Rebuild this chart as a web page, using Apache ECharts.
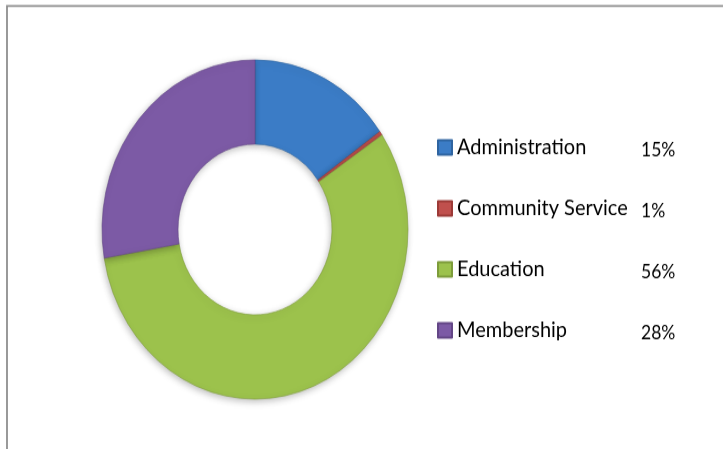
<!DOCTYPE html>
<html>
<head>
<meta charset="utf-8">
<script src="https://cdn.jsdelivr.net/npm/echarts@6/dist/echarts.min.js"></script>
<style>
html,body{margin:0;padding:0;background:#fff;overflow:hidden;}
#wrap{position:absolute;left:0;top:0;width:723px;height:405px;transform:scaleY(1.1086);transform-origin:0 0;}
</style>
</head>
<body>
<div id="wrap"></div>
<script>
var categories = ['Administration', 'Community Service', 'Education', 'Membership'];
var values = [15.2, 0.4, 56.7, 27.7];
var percentLabels = ['15%', '1%', '56%', '28%'];
var colors = ['#3b7cc6', '#c0504d', '#9cc24c', '#7c5aa5'];
var borders = ['#2f64a0', '#9c3a37', '#7d9c3a', '#634686'];

var chart = echarts.init(document.getElementById('wrap'), null, {renderer: 'canvas'});
var data = categories.map(function (c, i) {
  return {
    name: c,
    value: values[i],
    itemStyle: {color: colors[i], borderColor: borders[i], borderWidth: 0.6}
  };
});
var pctMap = {};
categories.forEach(function (c, i) { pctMap[c] = percentLabels[i]; });

chart.setOption({
  animation: false,
  backgroundColor: '#ffffff',
  graphic: [{
    type: 'rect',
    shape: {x: 7, y: 5.4, width: 1000, height: 1000},
    style: {fill: 'none', stroke: '#8f8f8f', lineWidth: 1.8},
    silent: true
  }],
  legend: {
    orient: 'vertical',
    left: 432,
    top: 118,
    itemWidth: 14,
    itemHeight: 13,
    itemGap: 34,
    icon: 'rect',
    selectedMode: false,
    formatter: function (name) {
      return '{n|' + name + '}{p|' + pctMap[name] + '}';
    },
    textStyle: {
      fontFamily: 'Lato',
      color: '#000',
      lineHeight: 20,
      rich: {
        n: {fontFamily: 'Lato', fontSize: 20, color: '#000', width: 184},
        p: {fontFamily: 'Lato', fontSize: 17.5, color: '#000', padding: [4, 0, 0, 0]}
      }
    },
    data: categories
  },
  series: [{
    type: 'pie',
    center: [255, 207],
    radius: [77, 153],
    startAngle: 90,
    clockwise: true,
    label: {show: false},
    labelLine: {show: false},
    emphasis: {disabled: true},
    itemStyle: {shadowBlur: 6, shadowColor: 'rgba(0,0,0,0.25)', shadowOffsetX: -1, shadowOffsetY: 2},
    data: data
  }]
});
</script>
</body>
</html>
